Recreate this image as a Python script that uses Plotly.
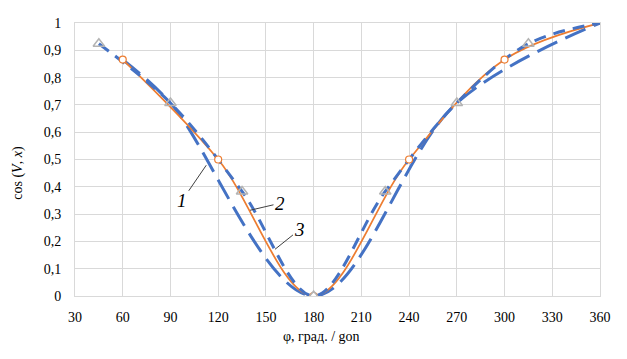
import plotly.graph_objects as go

# Curve 1: sparse points (blue long dash)
c1_x = [60, 90, 180, 270, 360]
c1_y = [0.866, 0.707, 0.0, 0.707, 1.0]

# Curve 2: orange with circle markers
c2_x = [60, 120, 180, 240, 300, 360]
c2_y = [0.866, 0.5, 0.0, 0.5, 0.866, 1.0]

# Curve 3: blue dash with grey triangle markers
c3_x = [45, 90, 135, 180, 225, 270, 315, 360]
c3_y = [0.924, 0.707, 0.383, 0.0, 0.383, 0.707, 0.924, 1.0]

x_ticks = [30, 60, 90, 120, 150, 180, 210, 240, 270, 300, 330, 360]
y_ticks = [0, 0.1, 0.2, 0.3, 0.4, 0.5, 0.6, 0.7, 0.8, 0.9, 1]
y_ticktext = ["0", "0,1", "0,2", "0,3", "0,4", "0,5", "0,6", "0,7", "0,8", "0,9", "1"]

BLUE = "#4472C4"
ORANGE = "#ED7D31"
GREY = "#A5A5A5"
FONT = "Liberation Serif, Times New Roman, serif"

fig = go.Figure()
fig.add_trace(go.Scatter(x=c1_x, y=c1_y, mode="lines", line_shape="spline",
                         line=dict(color=BLUE, width=3, dash="22px,9px"),
                         showlegend=False, hoverinfo="skip"))
fig.add_trace(go.Scatter(x=c2_x, y=c2_y, mode="lines", line_shape="spline",
                         line=dict(color=ORANGE, width=1.75),
                         showlegend=False, hoverinfo="skip"))
fig.add_trace(go.Scatter(x=c3_x, y=c3_y, mode="lines", line_shape="spline",
                         line=dict(color=BLUE, width=3, dash="12px,8px"),
                         showlegend=False, hoverinfo="skip"))
fig.add_trace(go.Scatter(x=c2_x[:-1], y=c2_y[:-1], mode="markers",
                         marker=dict(symbol="circle", size=7, color="white",
                                     line=dict(color=ORANGE, width=1.2)),
                         showlegend=False, hoverinfo="skip"))
fig.add_trace(go.Scatter(x=c3_x[:-1], y=c3_y[:-1], mode="markers",
                         marker=dict(symbol="triangle-up-open", size=10, color="#B4B4B4",
                                     line=dict(color="#B4B4B4", width=1.5)),
                         showlegend=False, hoverinfo="skip"))

ann_font = dict(family=FONT, size=19, color="black")
labels = [("<i>1</i>", 112.5, 0.479, -24, 35),
          ("<i>2</i>", 140.0, 0.314, 30, -7),
          ("<i>3</i>", 155.7, 0.171, 25, -20)]
annotations = []
for t, xx, yy, ax, ay in labels:
    annotations.append(dict(x=xx, y=yy, xref="x", yref="y", text=t, showarrow=True,
                            arrowhead=0, arrowwidth=1, arrowcolor="#404040",
                            ax=ax, ay=ay, font=ann_font, standoff=0))

annotations.append(dict(x=0.47, y=-0.15, xref="paper", yref="paper",
                        text="φ, град. / gon", showarrow=False,
                        font=dict(family=FONT, size=14, color="black"),
                        xanchor="center", yanchor="middle"))
annotations.append(dict(x=-0.1075, y=0.45, xref="paper", yref="paper",
                        text="cos (<i>V</i>, <i>x</i>)", showarrow=False, textangle=-90,
                        font=dict(family=FONT, size=14, color="black"),
                        xanchor="center", yanchor="middle"))

fig.update_layout(
    width=611, height=343,
    margin=dict(l=67, r=18, t=8, b=55),
    paper_bgcolor="white", plot_bgcolor="white",
    font=dict(family=FONT, size=14, color="black"),
    annotations=annotations,
    xaxis=dict(range=[30, 360], tickvals=x_ticks, ticktext=[str(v) for v in x_ticks],
               showgrid=True, gridcolor="#D9D9D9", gridwidth=1,
               showline=True, linecolor="#D9D9D9", mirror=True, zeroline=False,
               ticks="", ticklabelstandoff=8,
               tickfont=dict(family=FONT, size=14, color="black")),
    yaxis=dict(range=[0, 1], tickvals=y_ticks, ticktext=y_ticktext,
               showgrid=True, gridcolor="#D9D9D9", gridwidth=1,
               showline=True, linecolor="#D9D9D9", mirror=True, zeroline=False,
               ticks="", ticklabelstandoff=10,
               tickfont=dict(family=FONT, size=14, color="black")),
)

fig.write_html("out.html")
